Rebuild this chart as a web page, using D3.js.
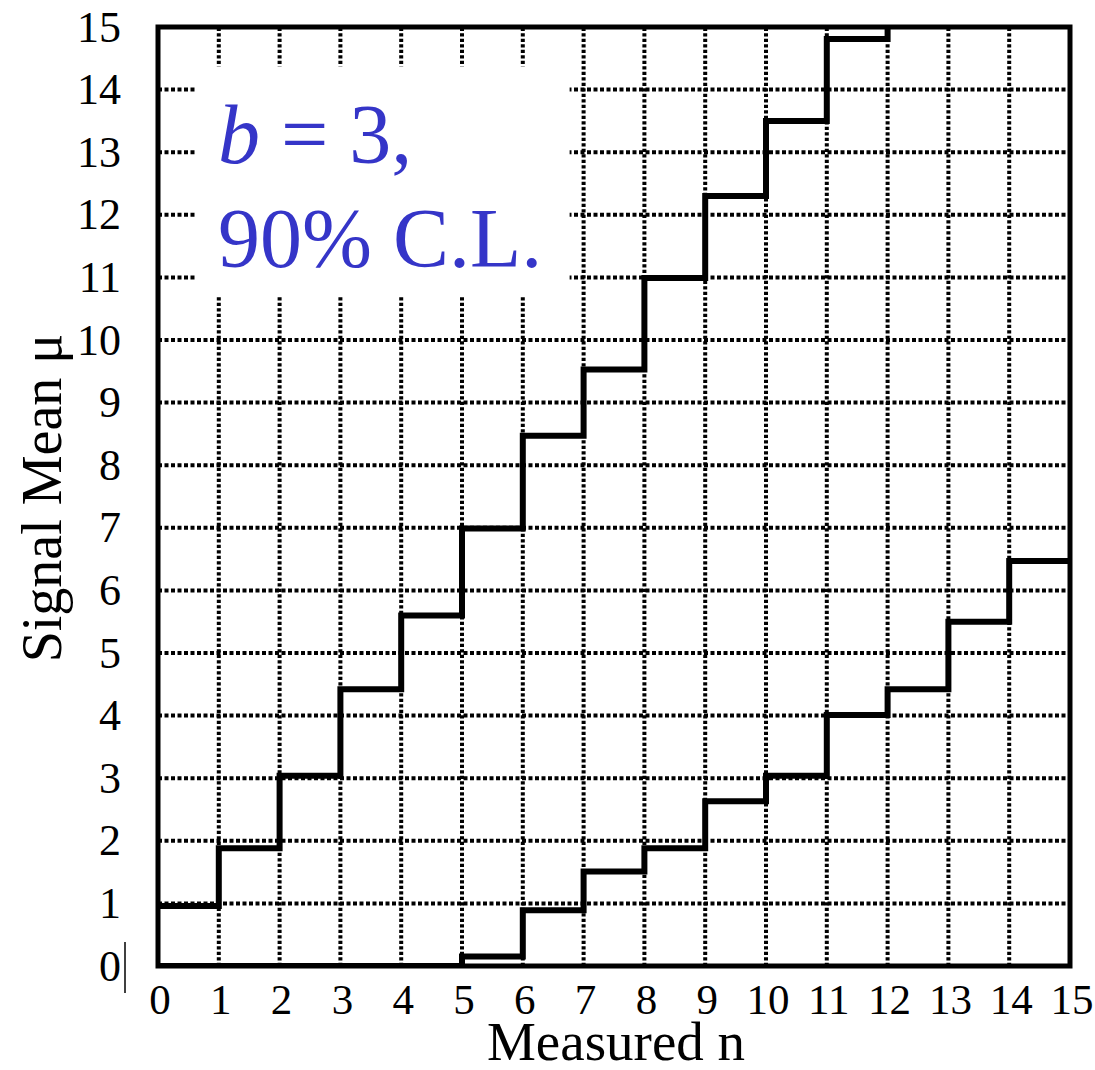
<!DOCTYPE html>
<html>
<head>
<meta charset="utf-8">
<script src="https://cdn.jsdelivr.net/npm/d3@7"></script>
<style>
  body { margin: 0; background: #fff; }
  text { font-family: "Liberation Serif", "DejaVu Serif", serif; }
</style>
</head>
<body>
<svg id="chart" width="1095" height="1070"></svg>
<script>

// data
var nValues = [0, 1, 2, 3, 4, 5, 6, 7, 8, 9, 10, 11, 12, 13, 14, 15];
var upperLimit = [0.96, 1.88, 3.04, 4.42, 5.60, 6.99, 8.47, 9.53, 10.99, 12.30, 13.50, 14.81, 16.00];
var lowerLimit = [0, 0, 0, 0, 0, 0.15, 0.89, 1.51, 1.88, 2.63, 3.04, 4.01, 4.42, 5.50, 6.47, 6.47];
var xTicks = [0, 1, 2, 3, 4, 5, 6, 7, 8, 9, 10, 11, 12, 13, 14, 15];
var yTicks = [0, 1, 2, 3, 4, 5, 6, 7, 8, 9, 10, 11, 12, 13, 14, 15];
var labelLines = ["b = 3,", "90% C.L."];

var svg = d3.select("svg#chart"),
    margin = {left: 158, right: 25, top: 27, bottom: 104},
    width = +svg.attr("width") - margin.left - margin.right,
    height = +svg.attr("height") - margin.top - margin.bottom;

var x = d3.scaleLinear()
    .domain([0, 15])
    .range([margin.left, margin.left + width]);

var y = d3.scaleLinear()
    .domain([0, 15])
    .range([margin.top + height, margin.top]);

var blue = "#3535c8";

svg.append("defs").append("clipPath")
    .attr("id", "plotClip")
  .append("rect")
    .attr("x", x(0))
    .attr("y", y(15))
    .attr("width", x(15) - x(0))
    .attr("height", y(0) - y(15));

// dotted grid
var grid = svg.append("g").attr("class", "grid");

grid.selectAll(".hgrid")
  .data(yTicks.slice(1, -1))
  .enter().append("line")
    .attr("class", "hgrid")
    .attr("x1", x(0))
    .attr("x2", x(15))
    .attr("y1", function(d) { return y(d); })
    .attr("y2", function(d) { return y(d); })
    .attr("stroke", "#000")
    .attr("stroke-width", 4)
    .style("stroke-dasharray", "4,2.5");

grid.selectAll(".vgrid")
  .data(xTicks.slice(1, -1))
  .enter().append("line")
    .attr("class", "vgrid")
    .attr("x1", function(d) { return x(d); })
    .attr("x2", function(d) { return x(d); })
    .attr("y1", y(0))
    .attr("y2", y(15))
    .attr("stroke", "#000")
    .attr("stroke-width", 4)
    .style("stroke-dasharray", "3.2,2.3");

// white box behind the label
svg.append("rect")
    .attr("x", x(0.64))
    .attr("y", y(14.37))
    .attr("width", x(6.77) - x(0.64))
    .attr("height", y(10.7) - y(14.37))
    .attr("fill", "#fff");

// limit curves
var stepLine = d3.line()
    .x(function(d, i) { return x(nValues[i]); })
    .y(function(d) { return y(d); })
    .curve(d3.curveStepAfter);

var curves = svg.append("g").attr("clip-path", "url(#plotClip)");

curves.append("path")
    .attr("d", stepLine(upperLimit))
    .attr("fill", "none")
    .attr("stroke", "#000")
    .attr("stroke-width", 6);

curves.append("path")
    .attr("d", stepLine(lowerLimit))
    .attr("fill", "none")
    .attr("stroke", "#000")
    .attr("stroke-width", 6);

// frame
svg.append("rect")
    .attr("x", x(0))
    .attr("y", y(15))
    .attr("width", x(15) - x(0))
    .attr("height", y(0) - y(15))
    .attr("fill", "none")
    .attr("stroke", "#000")
    .attr("stroke-width", 5);

// tick labels
svg.append("g")
  .selectAll("text")
  .data(xTicks)
  .enter().append("text")
    .attr("x", function(d) { return x(d) + 2; })
    .attr("y", y(0) + 48)
    .attr("text-anchor", "middle")
    .attr("font-size", "43px")
    .text(function(d) { return d; });

svg.append("g")
  .selectAll("text")
  .data(yTicks)
  .enter().append("text")
    .attr("x", 121)
    .attr("y", function(d) { return y(d); })
    .attr("dy", "0.33em")
    .attr("text-anchor", "end")
    .attr("font-size", "44px")
    .text(function(d) { return d; });

// stray bar next to the zero label
svg.append("line")
    .attr("x1", 125)
    .attr("x2", 125)
    .attr("y1", y(0) - 24)
    .attr("y2", y(0) + 27)
    .attr("stroke", "#000")
    .attr("stroke-width", 1.5);

// axis titles
svg.append("text")
    .attr("x", 616)
    .attr("y", 1060)
    .attr("text-anchor", "middle")
    .attr("font-size", "55px")
    .text("Measured n");

svg.append("text")
    .attr("transform", "translate(61," + 498 + ") rotate(-90)")
    .attr("text-anchor", "middle")
    .attr("font-size", "56px")
    .text("Signal Mean \u03bc");

// label
var label = svg.append("text")
    .attr("fill", blue)
    .attr("font-size", "84px");

label.append("tspan")
    .attr("x", 218)
    .attr("y", 163)
    .attr("font-style", "italic")
    .text(labelLines[0].slice(0, 1));

label.append("tspan")
    .text(labelLines[0].slice(1));

label.append("tspan")
    .attr("x", 218)
    .attr("y", 267)
    .text(labelLines[1]);

</script>
</body>
</html>
